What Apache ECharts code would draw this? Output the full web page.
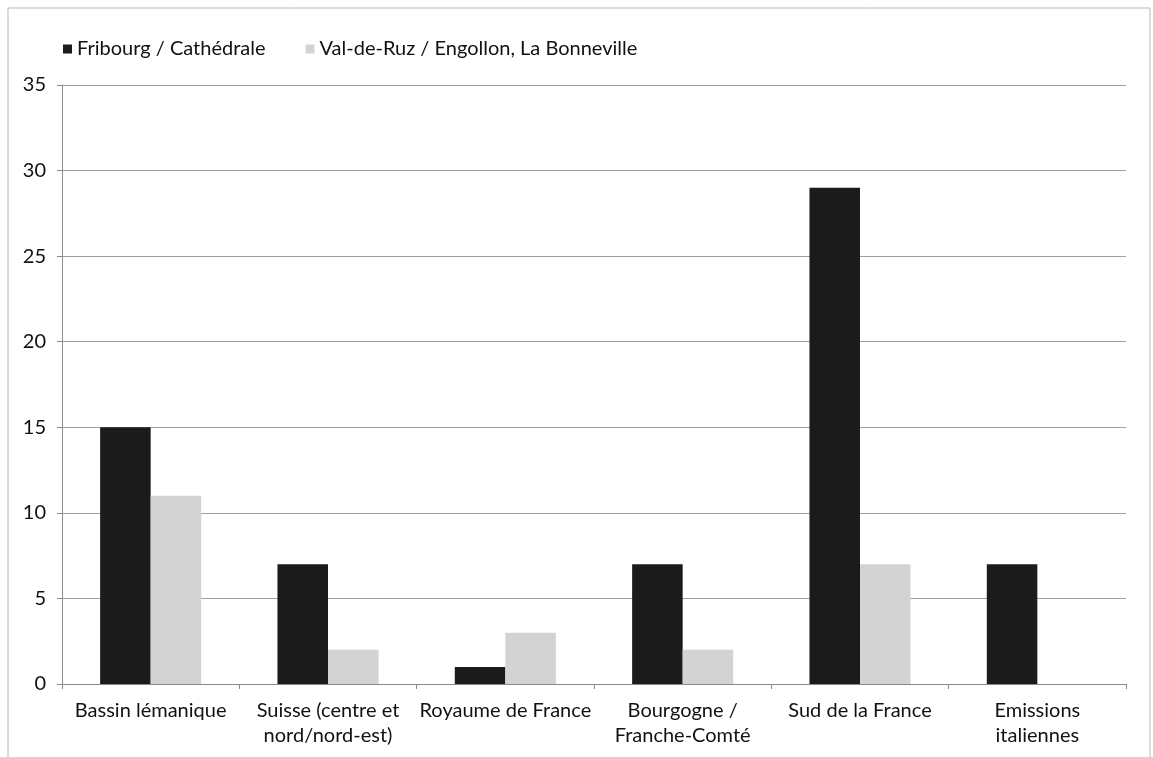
<!DOCTYPE html>
<html lang="fr">
<head>
    <meta charset="UTF-8">
    <title>Provenance</title>
    <script src="https://cdn.jsdelivr.net/npm/echarts@6/dist/echarts.min.js"></script>
    <style>
        body { margin: 0; background: #fff; }
    </style>
</head>
<body>
<div id="chart" style="width: 1153px;height: 757px;"></div>
<script>
    var categories = ['Bassin lémanique', 'Suisse (centre et\nnord/nord-est)', 'Royaume de France',
        'Bourgogne /\nFranche-Comté', 'Sud de la France', 'Emissions\nitaliennes'];
    var seriesNames = ['Fribourg / Cathédrale', 'Val-de-Ruz / Engollon, La Bonneville'];
    var fribourg = [15, 7, 1, 7, 29, 7];
    var valDeRuz = [11, 2, 3, 2, 7, 0];

    var myChart = echarts.init(document.getElementById('chart'));
    var option = {
        backgroundColor: '#fff',
        textStyle: { fontFamily: 'Lato', color: '#111' },
        animation: false,
        graphic: [{
            // cadre du graphique
            type: 'rect',
            shape: { x: 8, y: 8, width: 1142, height: 760 },
            style: { fill: 'none', stroke: '#b8b8b8', lineWidth: 1 }
        }],
        legend: {
            left: 58,
            top: 34,
            itemWidth: 9,
            itemHeight: 9,
            itemGap: 40,
            icon: 'rect',
            textStyle: { fontSize: 20, color: '#111', fontFamily: 'Lato' },
            data: seriesNames
        },
        grid: {
            left: 62,
            right: 27,
            top: 85,
            bottom: 73
        },
        xAxis: {
            type: 'category',
            data: categories,
            axisLine: { lineStyle: { color: '#8a8a8a' } },
            axisTick: { show: true, length: 5, lineStyle: { color: '#8a8a8a' } },
            axisLabel: {
                interval: 0,
                fontSize: 20,
                color: '#111',
                lineHeight: 25,
                margin: 14
            }
        },
        yAxis: {
            type: 'value',
            min: 0,
            max: 35,
            interval: 5,
            axisLine: { show: true, lineStyle: { color: '#8a8a8a' } },
            axisTick: { show: true, length: 5, lineStyle: { color: '#8a8a8a' } },
            axisLabel: { fontSize: 20, color: '#111', margin: 16 },
            splitLine: { lineStyle: { color: '#a0a0a0', width: 1 } }
        },
        series: [{
            name: seriesNames[0],
            type: 'bar',
            barGap: '0%',
            barCategoryGap: '43%',
            itemStyle: { color: '#1b1b1b' },
            data: fribourg
        }, {
            name: seriesNames[1],
            type: 'bar',
            itemStyle: { color: '#d3d3d3' },
            data: valDeRuz
        }]
    };
    myChart.setOption(option);
</script>
</body>
</html>
